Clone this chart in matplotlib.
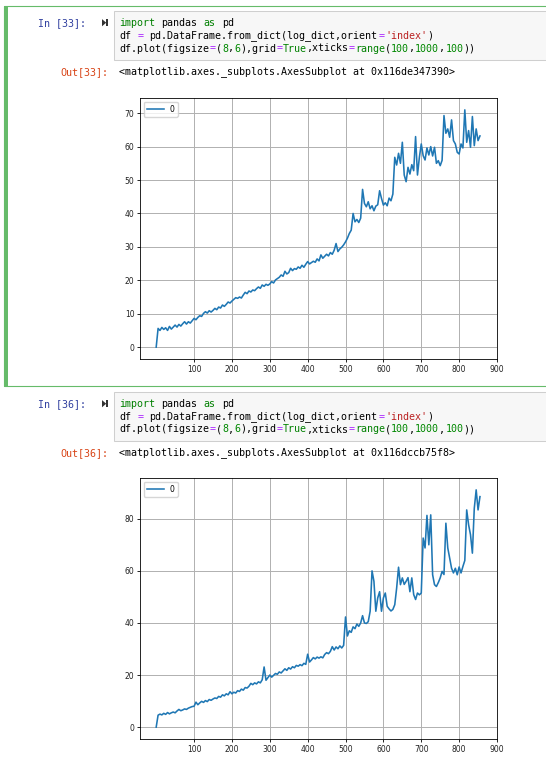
import numpy as np
import matplotlib.pyplot as plt
from matplotlib.patches import Rectangle, Polygon

W, H = 546, 760

# index of the logged values (one value every 5 steps)
steps = np.arange(0, 860, 5)

values_33 = [
    0, 5.6, 5.0, 5.9, 5.3, 5.8, 5.0, 6.2, 5.4, 6.0,
    6.6, 6.0, 6.8, 6.3, 7.0, 7.6, 6.9, 7.6, 7.2, 7.9,
    8.6, 8.2, 8.9, 9.4, 9.2, 10.1, 10.6, 10.2, 10.9, 10.5,
    11.0, 11.6, 11.2, 12.0, 11.7, 12.6, 12.2, 12.8, 13.5, 13.2,
    13.8, 14.3, 14.8, 14.6, 15.0, 14.7, 15.6, 16.4, 16.0, 16.8,
    16.5, 17.1, 16.9, 17.5, 18.0, 17.6, 18.6, 18.2, 18.8, 18.5,
    18.9, 19.6, 19.2, 20.1, 20.5, 20.9, 21.6, 21.2, 22.7, 21.9,
    22.3, 23.6, 22.9, 23.5, 23.3, 24.0, 23.6, 24.5, 23.9, 24.8,
    25.6, 24.9, 25.3, 25.7, 25.4, 26.4, 25.8, 27.6, 26.6, 27.2,
    27.8, 27.3, 28.3, 27.8, 29.0, 31.0, 28.6, 29.4, 29.9, 30.6,
    31.5, 32.6, 34.0, 35.0, 40.0, 37.5, 38.2, 37.3, 38.6, 47.2,
    43.0, 42.0, 43.5, 41.4, 42.3, 40.8, 42.2, 42.6, 46.8, 44.5,
    42.5, 43.2, 42.3, 44.6, 43.8, 45.8, 56.8, 54.5, 58.0, 55.0,
    61.3, 51.5, 49.5, 53.8, 51.8, 54.6, 52.8, 63.0, 51.5, 56.8,
    60.8, 57.3, 56.0, 59.6, 57.5, 60.0, 57.2, 59.8, 55.0, 55.8,
    54.3, 55.9, 69.3, 64.0, 65.3, 62.8, 68.0, 61.8, 60.8, 58.3,
    57.8, 60.8, 59.6, 71.0, 61.3, 64.8, 59.8, 69.0, 60.3, 65.3,
    61.8, 63.2,
]

values_36 = [
    0, 4.6, 5.0, 4.7, 5.3, 4.9, 5.6, 5.1, 5.5, 5.8,
    5.5, 6.2, 6.8, 6.3, 6.6, 7.0, 6.8, 7.3, 7.6, 7.9,
    8.0, 9.6, 8.6, 9.3, 9.9, 9.5, 10.2, 9.8, 10.6, 10.3,
    10.8, 11.2, 11.0, 11.8, 11.5, 12.4, 12.0, 12.8, 12.4, 13.6,
    12.8, 13.4, 13.1, 14.0, 13.7, 14.6, 14.2, 15.2, 15.0, 15.7,
    16.8, 16.3, 17.0, 16.6, 17.4, 17.0, 18.2, 23.1, 18.0, 19.0,
    20.0, 19.2, 19.9, 20.6, 20.3, 21.2, 20.8, 21.6, 22.4, 21.8,
    22.8, 22.3, 23.2, 22.8, 23.7, 23.4, 24.0, 23.6, 24.5, 24.1,
    28.0, 25.0, 25.8, 26.7, 26.2, 26.9, 26.5, 27.0, 26.6, 27.9,
    28.6, 28.2, 29.1, 30.9, 29.6, 30.8, 30.1, 31.2, 30.4, 31.4,
    42.3, 35.0, 37.0, 36.4, 38.5, 37.8, 39.6, 38.7, 40.0, 42.8,
    40.0, 39.8, 40.5, 44.5, 60.0, 56.0, 44.5, 49.6, 52.0, 44.5,
    49.6, 51.5, 46.4, 45.4, 44.6, 45.2, 47.0, 53.4, 61.4, 54.7,
    57.3, 54.8, 56.0, 57.4, 52.0, 57.3, 50.9, 49.0, 51.5, 50.8,
    51.5, 72.6, 68.8, 81.3, 70.0, 81.5, 58.5, 54.7, 54.0, 55.5,
    57.3, 59.8, 58.6, 78.3, 68.8, 65.0, 61.0, 59.2, 61.0, 58.5,
    61.5, 59.2, 61.7, 64.0, 83.4, 77.7, 73.9, 66.8, 84.0, 91.1,
    83.4, 88.5,
]

xtick_vals = list(range(100, 1000, 100))

KW = '#008000'
NUM = '#008800'
OP = '#aa22ff'
STR = '#ba2121'
K = '#000000'

code = [
    [("import", KW), (" pandas ", K), ("as", KW), (" pd", K)],
    [("df ", K), ("=", OP), (" pd.DataFrame.from_dict(log_dict,orient", K),
     ("=", OP), ("'index'", STR), (")", K)],
    [("df.plot(figsize", K), ("=", OP), ("(", K), ("8", NUM), (",", K),
     ("6", NUM), ("),grid", K), ("=", OP), ("True", KW), (",xticks", K),
     ("=", OP), ("range", KW), ("(", K), ("100", NUM), (",", K),
     ("1000", NUM), (",", K), ("100", NUM), ("))", K)],
]

cells = [
    ("In [33]:", "Out[33]:", "<matplotlib.axes._subplots.AxesSubplot at 0x116de347390>"),
    ("In [36]:", "Out[36]:", "<matplotlib.axes._subplots.AxesSubplot at 0x116dccb75f8>"),
]

MONO = 7.22
CHAR_W = 6.04


def fx(xp):
    return xp / W


def fy(yp):
    return 1 - yp / H


fig = plt.figure(figsize=(W / 100, H / 100), dpi=100)


def mono(xp, yp, s, color):
    fig.text(fx(xp), fy(yp), s, color=color, family='DejaVu Sans Mono',
             fontsize=MONO, ha='left', va='center')


def draw_cell(top, prompt_in, prompt_out, out_text):
    fig.add_artist(Rectangle((fx(114), fy(top + 49)), fx(440), 49 / H,
                             transform=fig.transFigure, facecolor='#f7f7f7',
                             edgecolor='#cfcfcf', lw=0.75))
    y1 = top + 11.4
    mono(37.7, y1, prompt_in, '#303f9f')
    # run button
    fig.add_artist(Polygon([(fx(102), fy(y1 - 3.6)), (fx(102), fy(y1 + 3.6)),
                            (fx(106.2), fy(y1))], closed=True,
                           transform=fig.transFigure, color='#333333', lw=0))
    fig.add_artist(Rectangle((fx(106.4), fy(y1 + 3.6)), 1.9 / W, 7.2 / H,
                             transform=fig.transFigure, color='#333333', lw=0))
    for i, segs in enumerate(code):
        col = 0
        for s, c in segs:
            lead = len(s) - len(s.lstrip())
            if s.strip():
                mono(119.3 + (col + lead) * CHAR_W, y1 + i * 12.9, s.strip(), c)
            col += len(s)
    mono(60, top + 60.7, prompt_out, '#d84315')
    mono(119.3, top + 60.7, out_text, K)


def draw_chart(bottom, vals):
    ax = fig.add_axes([fx(140), fy(bottom), 357 / W, 261 / H])
    ax.plot(steps, vals, color='#1f77b4', lw=1.15, label='0')
    ax.set_xticks(xtick_vals)
    ax.grid(True, color='#b0b0b0', lw=0.7)
    ax.tick_params(labelsize=5.5, length=2, width=0.6, pad=2,
                   labelcolor='#222222')
    for sp in ax.spines.values():
        sp.set_linewidth(0.6)
    ax.legend(loc='upper left', fontsize=5.5, handlelength=2.2)
    return ax


# selected (green) cell frame
green = '#66bb6a'
fig.add_artist(Rectangle((fx(4), fy(386)), fx(560), 380 / H,
                         transform=fig.transFigure, facecolor='none',
                         edgecolor=green, lw=0.8))
fig.add_artist(Rectangle((fx(4), fy(386)), 3.6 / W, 380 / H,
                         transform=fig.transFigure, color=green, lw=0))

draw_cell(11.3, *cells[0])
draw_chart(359, values_33)
draw_cell(392.3, *cells[1])
draw_chart(739, values_36)

fig.savefig('out.png', dpi=100)
